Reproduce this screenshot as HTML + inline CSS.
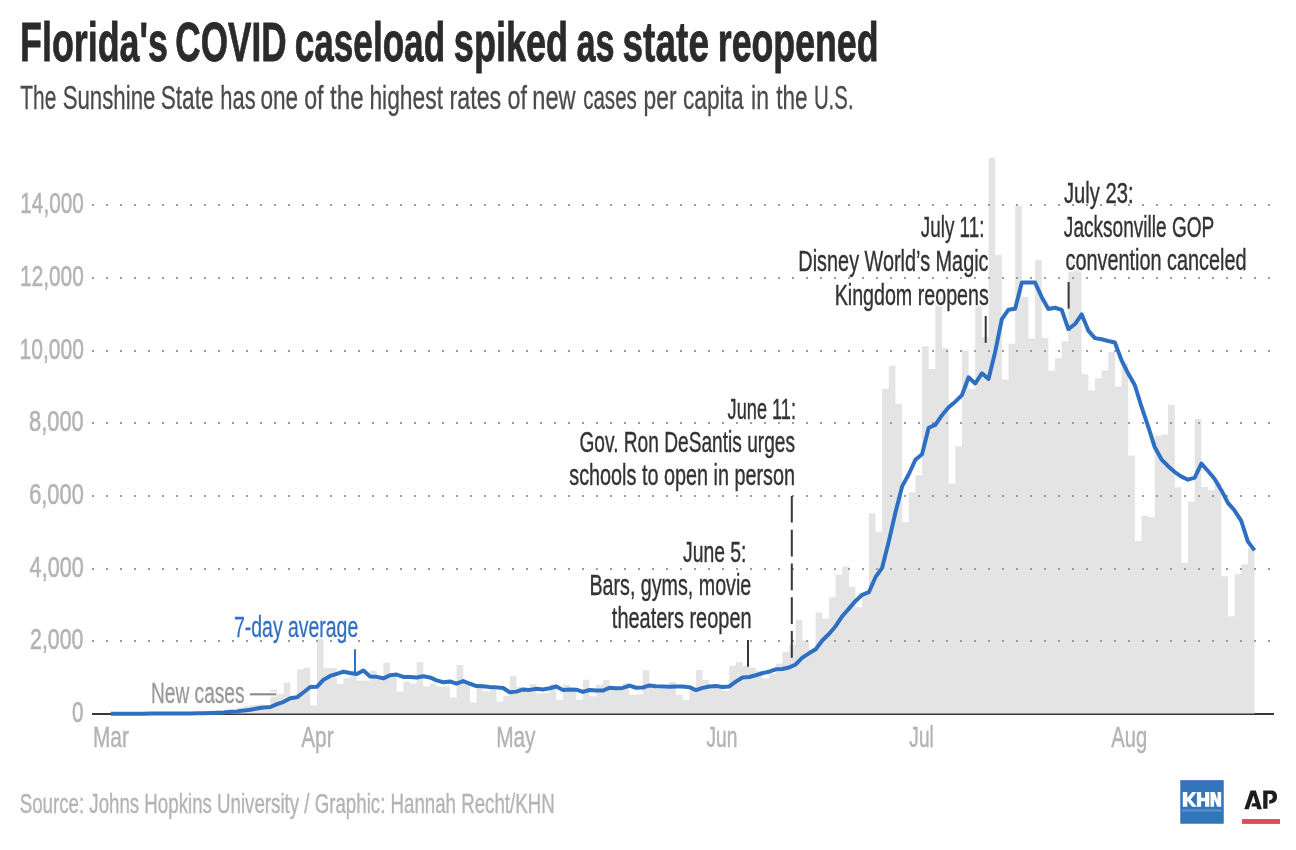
<!DOCTYPE html>
<html><head><meta charset="utf-8"><style>
html,body{margin:0;padding:0;background:#fff;}
body{width:1296px;height:850px;overflow:hidden;}
svg{display:block;font-family:"Liberation Sans",sans-serif;will-change:transform;}
.h{fill:#fff;stroke:#fff;stroke-width:4px;stroke-linejoin:round;}
</style></head><body>
<svg width="1296" height="850" viewBox="0 0 1296 850">
<line x1="92" y1="714" x2="1274" y2="714" stroke="#383838" stroke-width="2"/>
<path d="M104.10,713.45 L104.10,713.60 L110.75,713.60 L110.75,713.67 L117.40,713.67 L117.40,713.67 L124.05,713.67 L124.05,713.63 L130.70,713.63 L130.70,713.60 L137.35,713.60 L137.35,713.60 L144.00,713.60 L144.00,713.60 L150.65,713.60 L150.65,713.52 L157.30,713.52 L157.30,713.63 L163.95,713.63 L163.95,713.67 L170.60,713.67 L170.60,713.27 L177.25,713.27 L177.25,713.52 L183.90,713.52 L183.90,713.05 L190.55,713.05 L190.55,712.83 L197.20,712.83 L197.20,712.58 L203.85,712.58 L203.85,712.43 L210.50,712.43 L210.50,711.82 L217.15,711.82 L217.15,710.58 L223.80,710.58 L223.80,709.67 L230.45,709.67 L230.45,709.67 L237.10,709.67 L237.10,707.49 L243.75,707.49 L243.75,705.97 L250.40,705.97 L250.40,705.02 L257.05,705.02 L257.05,704.40 L263.70,704.40 L263.70,706.62 L270.35,706.62 L270.35,689.62 L277.00,689.62 L277.00,693.80 L283.65,693.80 L283.65,682.71 L290.30,682.71 L290.30,699.14 L296.95,699.14 L296.95,669.42 L303.60,669.42 L303.60,667.82 L310.25,667.82 L310.25,705.39 L316.90,705.39 L316.90,639.26 L323.55,639.26 L323.55,667.93 L330.20,667.93 L330.20,667.93 L336.85,667.93 L336.85,684.09 L343.50,684.09 L343.50,678.32 L350.15,678.32 L350.15,675.41 L356.80,675.41 L356.80,680.61 L363.45,680.61 L363.45,680.61 L370.10,680.61 L370.10,670.83 L376.75,670.83 L376.75,678.32 L383.40,678.32 L383.40,662.73 L390.05,662.73 L390.05,673.70 L396.70,673.70 L396.70,691.62 L403.35,691.62 L403.35,681.70 L410.00,681.70 L410.00,683.51 L416.65,683.51 L416.65,662.33 L423.30,662.33 L423.30,686.42 L429.95,686.42 L429.95,683.51 L436.60,683.51 L436.60,686.42 L443.25,686.42 L443.25,686.42 L449.90,686.42 L449.90,697.39 L456.55,697.39 L456.55,665.02 L463.20,665.02 L463.20,680.97 L469.85,680.97 L469.85,702.59 L476.50,702.59 L476.50,685.29 L483.15,685.29 L483.15,691.62 L489.80,691.62 L489.80,688.71 L496.45,688.71 L496.45,701.50 L503.10,701.50 L503.10,695.68 L509.75,695.68 L509.75,676.03 L516.40,676.03 L516.40,687.00 L523.05,687.00 L523.05,688.71 L529.70,688.71 L529.70,683.91 L536.35,683.91 L536.35,693.40 L543.00,693.40 L543.00,692.81 L549.65,692.81 L549.65,683.91 L556.30,683.91 L556.30,699.68 L562.95,699.68 L562.95,684.71 L569.60,684.71 L569.60,689.29 L576.25,689.29 L576.25,699.68 L582.90,699.68 L582.90,679.70 L589.55,679.70 L589.55,696.19 L596.20,696.19 L596.20,684.71 L602.85,684.71 L602.85,680.03 L609.50,680.03 L609.50,687.33 L616.15,687.33 L616.15,687.91 L622.80,687.91 L622.80,683.22 L629.45,683.22 L629.45,694.99 L636.10,694.99 L636.10,694.41 L642.75,694.41 L642.75,670.14 L649.40,670.14 L649.40,685.62 L656.05,685.62 L656.05,689.11 L662.70,689.11 L662.70,689.11 L669.35,689.11 L669.35,681.81 L676.00,681.81 L676.00,694.99 L682.65,694.99 L682.65,699.68 L689.30,699.68 L689.30,690.31 L695.95,690.31 L695.95,670.14 L702.60,670.14 L702.60,679.92 L709.25,679.92 L709.25,685.62 L715.90,685.62 L715.90,688.60 L722.55,688.60 L722.55,690.78 L729.20,690.78 L729.20,665.82 L735.85,665.82 L735.85,662.11 L742.50,662.11 L742.50,666.25 L749.15,666.25 L749.15,667.53 L755.80,667.53 L755.80,670.80 L762.45,670.80 L762.45,678.57 L769.10,678.57 L769.10,673.85 L775.75,673.85 L775.75,663.86 L782.40,663.86 L782.40,651.98 L789.05,651.98 L789.05,644.56 L795.70,644.56 L795.70,619.89 L802.35,619.89 L802.35,640.42 L809.00,640.42 L809.00,649.80 L815.65,649.80 L815.65,612.55 L822.30,612.55 L822.30,618.84 L828.95,618.84 L828.95,597.15 L835.60,597.15 L835.60,574.80 L842.25,574.80 L842.25,566.56 L848.90,566.56 L848.90,586.72 L855.55,586.72 L855.55,607.36 L862.20,607.36 L862.20,594.17 L868.85,594.17 L868.85,513.54 L875.50,513.54 L875.50,531.86 L882.15,531.86 L882.15,388.78 L888.80,388.78 L888.80,365.41 L895.45,365.41 L895.45,403.74 L902.10,403.74 L902.10,522.34 L908.75,522.34 L908.75,492.29 L915.40,492.29 L915.40,475.21 L922.05,475.21 L922.05,346.37 L928.70,346.37 L928.70,368.94 L935.35,368.94 L935.35,297.36 L942.00,297.36 L942.00,348.19 L948.65,348.19 L948.65,483.46 L955.30,483.46 L955.30,446.22 L961.95,446.22 L961.95,350.73 L968.60,350.73 L968.60,389.03 L975.25,389.03 L975.25,298.27 L981.90,298.27 L981.90,337.25 L988.55,337.25 L988.55,157.77 L995.20,157.77 L995.20,254.99 L1001.85,254.99 L1001.85,379.62 L1008.50,379.62 L1008.50,343.76 L1015.15,343.76 L1015.15,206.27 L1021.80,206.27 L1021.80,297.07 L1028.45,297.07 L1028.45,338.42 L1035.10,338.42 L1035.10,260.30 L1041.75,260.30 L1041.75,337.73 L1048.40,337.73 L1048.40,370.68 L1055.05,370.68 L1055.05,358.15 L1061.70,358.15 L1061.70,341.29 L1068.35,341.29 L1068.35,261.54 L1075.00,261.54 L1075.00,270.44 L1081.65,270.44 L1081.65,374.17 L1088.30,374.17 L1088.30,390.59 L1094.95,390.59 L1094.95,378.31 L1101.60,378.31 L1101.60,370.46 L1108.25,370.46 L1108.25,351.93 L1114.90,351.93 L1114.90,386.41 L1121.55,386.41 L1121.55,363.34 L1128.20,363.34 L1128.20,455.56 L1134.85,455.56 L1134.85,541.01 L1141.50,541.01 L1141.50,515.80 L1148.15,515.80 L1148.15,517.14 L1154.80,517.14 L1154.80,435.72 L1161.45,435.72 L1161.45,434.41 L1168.10,434.41 L1168.10,404.76 L1174.75,404.76 L1174.75,487.35 L1181.40,487.35 L1181.40,562.70 L1188.05,562.70 L1188.05,501.81 L1194.70,501.81 L1194.70,419.04 L1201.35,419.04 L1201.35,487.09 L1208.00,487.09 L1208.00,490.29 L1214.65,490.29 L1214.65,482.88 L1221.30,482.88 L1221.30,576.37 L1227.95,576.37 L1227.95,616.37 L1234.60,616.37 L1234.60,574.22 L1241.25,574.22 L1241.25,564.16 L1247.90,564.16 L1247.90,548.17 L1254.55,548.17 L1254.55,713.45 Z" fill="#e4e4e4"/>
<text x="727.60" y="419.00" font-size="29.50" textLength="68.37" lengthAdjust="spacingAndGlyphs" class="h">June 11:</text>
<text x="579.47" y="452.00" font-size="29.50" textLength="215.52" lengthAdjust="spacingAndGlyphs" class="h">Gov. Ron DeSantis urges</text>
<text x="569.25" y="485.00" font-size="29.50" textLength="225.81" lengthAdjust="spacingAndGlyphs" class="h">schools to open in person</text>
<text x="682.98" y="562.00" font-size="29.50" textLength="63.54" lengthAdjust="spacingAndGlyphs" class="h">June 5:</text>
<text x="589.44" y="595.00" font-size="29.50" textLength="161.83" lengthAdjust="spacingAndGlyphs" class="h">Bars, gyms, movie</text>
<text x="611.85" y="628.00" font-size="29.50" textLength="139.73" lengthAdjust="spacingAndGlyphs" class="h">theaters reopen</text>
<text x="920.87" y="237.00" font-size="29.50" textLength="63.53" lengthAdjust="spacingAndGlyphs" class="h">July 11:</text>
<text x="798.36" y="271.00" font-size="29.50" textLength="190.19" lengthAdjust="spacingAndGlyphs" class="h">Disney World’s Magic</text>
<text x="834.65" y="305.00" font-size="29.50" textLength="154.14" lengthAdjust="spacingAndGlyphs" class="h">Kingdom reopens</text>
<text x="1063.94" y="203.00" font-size="29.50" textLength="69.65" lengthAdjust="spacingAndGlyphs" class="h">July 23:</text>
<text x="1063.85" y="237.00" font-size="29.50" textLength="150.47" lengthAdjust="spacingAndGlyphs" class="h">Jacksonville GOP</text>
<text x="1065.45" y="270.00" font-size="29.50" textLength="181.15" lengthAdjust="spacingAndGlyphs" class="h">convention canceled</text>
<text x="150.99" y="703.00" font-size="29.50" textLength="93.57" lengthAdjust="spacingAndGlyphs" class="h">New cases</text>
<text x="233.99" y="637.00" font-size="29.50" textLength="124.26" lengthAdjust="spacingAndGlyphs" class="h">7-day average</text>
<line x1="250" y1="694.3" x2="276" y2="694.3" stroke="#fff" stroke-width="5"/>
<line x1="92" y1="641" x2="1270" y2="641" stroke="#9c9c9c" stroke-width="2" stroke-dasharray="2 12"/>
<line x1="92" y1="569" x2="1270" y2="569" stroke="#9c9c9c" stroke-width="2" stroke-dasharray="2 12"/>
<line x1="92" y1="496" x2="1270" y2="496" stroke="#9c9c9c" stroke-width="2" stroke-dasharray="2 12"/>
<line x1="92" y1="423" x2="1270" y2="423" stroke="#9c9c9c" stroke-width="2" stroke-dasharray="2 12"/>
<line x1="92" y1="351" x2="1270" y2="351" stroke="#9c9c9c" stroke-width="2" stroke-dasharray="2 12"/>
<line x1="92" y1="278" x2="1270" y2="278" stroke="#9c9c9c" stroke-width="2" stroke-dasharray="2 12"/>
<line x1="92" y1="205" x2="1270" y2="205" stroke="#9c9c9c" stroke-width="2" stroke-dasharray="2 12"/>
<line x1="250" y1="694.3" x2="276" y2="694.3" stroke="#8a8a8a" stroke-width="2.1"/>
<line x1="748" y1="640" x2="748" y2="666.8" stroke="#363636" stroke-width="2"/>
<line x1="791.8" y1="495.9" x2="791.8" y2="658" stroke="#363636" stroke-width="2" stroke-dasharray="26.7 7.1"/>
<line x1="985.7" y1="316" x2="985.7" y2="342.8" stroke="#363636" stroke-width="2"/>
<line x1="1068.6" y1="282" x2="1068.6" y2="308.6" stroke="#363636" stroke-width="2"/>
<line x1="355" y1="649.2" x2="355" y2="673.3" stroke="#3070c4" stroke-width="2"/>
<path d="M110.75,713.66 L117.40,713.66 L124.05,713.66 L130.70,713.65 L137.35,713.64 L144.00,713.63 L150.65,713.62 L157.30,713.61 L163.95,713.61 L170.60,713.61 L177.25,713.56 L183.90,713.55 L190.55,713.47 L197.20,713.36 L203.85,713.22 L210.50,713.05 L217.15,712.79 L223.80,712.40 L230.45,711.85 L237.10,711.37 L243.75,710.61 L250.40,709.66 L257.05,708.60 L263.70,707.55 L270.35,706.98 L277.00,704.11 L283.65,701.85 L290.30,698.31 L296.95,697.33 L303.60,692.24 L310.25,687.02 L316.90,686.84 L323.55,679.65 L330.20,675.95 L336.85,673.84 L343.50,671.69 L350.15,672.96 L356.80,674.05 L363.45,670.51 L370.10,676.41 L376.75,676.83 L383.40,678.31 L390.05,675.26 L396.70,674.60 L403.35,676.92 L410.00,677.07 L416.65,677.49 L423.30,676.27 L429.95,677.43 L436.60,680.40 L443.25,682.22 L449.90,681.47 L456.55,683.72 L463.20,681.07 L469.85,683.74 L476.50,686.05 L483.15,686.30 L489.80,687.04 L496.45,687.37 L503.10,687.96 L509.75,692.34 L516.40,691.63 L523.05,689.40 L529.70,689.89 L536.35,688.79 L543.00,689.46 L549.65,688.22 L556.30,686.54 L562.95,689.92 L569.60,689.59 L576.25,689.67 L582.90,691.93 L589.55,689.97 L596.20,690.45 L602.85,690.57 L609.50,687.76 L616.15,688.13 L622.80,687.94 L629.45,685.58 L636.10,687.77 L642.75,687.52 L649.40,685.43 L656.05,686.23 L662.70,686.49 L669.35,686.66 L676.00,686.46 L682.65,686.46 L689.30,687.21 L695.95,690.09 L702.60,687.88 L709.25,686.57 L715.90,686.07 L722.55,687.04 L729.20,686.44 L735.85,681.60 L742.50,677.57 L749.15,677.01 L755.80,675.24 L762.45,673.13 L769.10,671.69 L775.75,669.28 L782.40,669.00 L789.05,667.55 L795.70,664.45 L802.35,657.64 L809.00,653.30 L815.65,649.19 L822.30,640.44 L828.95,634.01 L835.60,626.17 L842.25,616.21 L848.90,608.59 L855.55,600.92 L862.20,594.85 L868.85,592.23 L875.50,577.19 L882.15,567.86 L888.80,541.28 L895.45,512.55 L902.10,486.41 L908.75,474.26 L915.40,459.71 L922.05,454.23 L928.70,427.74 L935.35,424.90 L942.00,415.18 L948.65,407.24 L955.30,401.69 L961.95,395.11 L968.60,377.32 L975.25,383.42 L981.90,373.32 L988.55,379.02 L995.20,351.82 L1001.85,319.18 L1008.50,309.67 L1015.15,308.67 L1021.80,282.56 L1028.45,282.39 L1035.10,282.56 L1041.75,297.20 L1048.40,309.02 L1055.05,307.75 L1061.70,309.80 L1068.35,329.09 L1075.00,324.01 L1081.65,314.30 L1088.30,330.57 L1094.95,338.12 L1101.60,339.21 L1108.25,340.97 L1114.90,342.49 L1121.55,360.33 L1128.20,373.60 L1134.85,385.23 L1141.50,406.72 L1148.15,426.36 L1154.80,447.31 L1161.45,459.28 L1168.10,466.14 L1174.75,472.06 L1181.40,476.60 L1188.05,479.70 L1194.70,477.70 L1201.35,463.68 L1208.00,471.02 L1214.65,479.01 L1221.30,490.17 L1227.95,502.88 L1234.60,510.55 L1241.25,520.89 L1247.90,541.63 L1254.55,550.35" fill="none" stroke="#2f6fc2" stroke-width="4" stroke-linejoin="round"/>
<text x="727.60" y="419.00" font-size="29.50" textLength="68.37" lengthAdjust="spacingAndGlyphs" fill="#333333" stroke="#333333" stroke-width="0.40" stroke-linejoin="round">June 11:</text>
<text x="579.47" y="452.00" font-size="29.50" textLength="215.52" lengthAdjust="spacingAndGlyphs" fill="#333333" stroke="#333333" stroke-width="0.40" stroke-linejoin="round">Gov. Ron DeSantis urges</text>
<text x="569.25" y="485.00" font-size="29.50" textLength="225.81" lengthAdjust="spacingAndGlyphs" fill="#333333" stroke="#333333" stroke-width="0.40" stroke-linejoin="round">schools to open in person</text>
<text x="682.98" y="562.00" font-size="29.50" textLength="63.54" lengthAdjust="spacingAndGlyphs" fill="#333333" stroke="#333333" stroke-width="0.40" stroke-linejoin="round">June 5:</text>
<text x="589.44" y="595.00" font-size="29.50" textLength="161.83" lengthAdjust="spacingAndGlyphs" fill="#333333" stroke="#333333" stroke-width="0.40" stroke-linejoin="round">Bars, gyms, movie</text>
<text x="611.85" y="628.00" font-size="29.50" textLength="139.73" lengthAdjust="spacingAndGlyphs" fill="#333333" stroke="#333333" stroke-width="0.40" stroke-linejoin="round">theaters reopen</text>
<text x="920.87" y="237.00" font-size="29.50" textLength="63.53" lengthAdjust="spacingAndGlyphs" fill="#333333" stroke="#333333" stroke-width="0.40" stroke-linejoin="round">July 11:</text>
<text x="798.36" y="271.00" font-size="29.50" textLength="190.19" lengthAdjust="spacingAndGlyphs" fill="#333333" stroke="#333333" stroke-width="0.40" stroke-linejoin="round">Disney World’s Magic</text>
<text x="834.65" y="305.00" font-size="29.50" textLength="154.14" lengthAdjust="spacingAndGlyphs" fill="#333333" stroke="#333333" stroke-width="0.40" stroke-linejoin="round">Kingdom reopens</text>
<text x="1063.94" y="203.00" font-size="29.50" textLength="69.65" lengthAdjust="spacingAndGlyphs" fill="#333333" stroke="#333333" stroke-width="0.40" stroke-linejoin="round">July 23:</text>
<text x="1063.85" y="237.00" font-size="29.50" textLength="150.47" lengthAdjust="spacingAndGlyphs" fill="#333333" stroke="#333333" stroke-width="0.40" stroke-linejoin="round">Jacksonville GOP</text>
<text x="1065.45" y="270.00" font-size="29.50" textLength="181.15" lengthAdjust="spacingAndGlyphs" fill="#333333" stroke="#333333" stroke-width="0.40" stroke-linejoin="round">convention canceled</text>
<text x="150.99" y="703.00" font-size="29.50" textLength="93.57" lengthAdjust="spacingAndGlyphs" fill="#999999" stroke="#999999" stroke-width="0.30" stroke-linejoin="round">New cases</text>
<text x="233.99" y="637.00" font-size="29.50" textLength="124.26" lengthAdjust="spacingAndGlyphs" fill="#3070c4" stroke="#3070c4" stroke-width="0.30" stroke-linejoin="round">7-day average</text>
<text x="20.11" y="61.00" font-size="55.50" textLength="147.83" lengthAdjust="spacingAndGlyphs" font-weight="bold" fill="#2b2b2b" stroke="#2b2b2b" stroke-width="0.80" stroke-linejoin="round">Florida&#39;s</text>
<text x="175.31" y="61.00" font-size="55.50" textLength="111.28" lengthAdjust="spacingAndGlyphs" font-weight="bold" fill="#2b2b2b" stroke="#2b2b2b" stroke-width="0.80" stroke-linejoin="round">COVID</text>
<text x="294.74" y="61.00" font-size="55.50" textLength="150.38" lengthAdjust="spacingAndGlyphs" font-weight="bold" fill="#2b2b2b" stroke="#2b2b2b" stroke-width="0.80" stroke-linejoin="round">caseload</text>
<text x="453.82" y="61.00" font-size="55.50" textLength="114.31" lengthAdjust="spacingAndGlyphs" font-weight="bold" fill="#2b2b2b" stroke="#2b2b2b" stroke-width="0.80" stroke-linejoin="round">spiked</text>
<text x="576.51" y="61.00" font-size="55.50" textLength="38.07" lengthAdjust="spacingAndGlyphs" font-weight="bold" fill="#2b2b2b" stroke="#2b2b2b" stroke-width="0.80" stroke-linejoin="round">as</text>
<text x="622.53" y="61.00" font-size="55.50" textLength="86.48" lengthAdjust="spacingAndGlyphs" font-weight="bold" fill="#2b2b2b" stroke="#2b2b2b" stroke-width="0.80" stroke-linejoin="round">state</text>
<text x="717.83" y="61.00" font-size="55.50" textLength="160.65" lengthAdjust="spacingAndGlyphs" font-weight="bold" fill="#2b2b2b" stroke="#2b2b2b" stroke-width="0.80" stroke-linejoin="round">reopened</text>
<text x="20.27" y="109.00" font-size="33.50" textLength="36.10" lengthAdjust="spacingAndGlyphs" fill="#4b4b4b" stroke="#4b4b4b" stroke-width="0.30" stroke-linejoin="round">The</text>
<text x="62.65" y="109.00" font-size="33.50" textLength="92.76" lengthAdjust="spacingAndGlyphs" fill="#4b4b4b" stroke="#4b4b4b" stroke-width="0.30" stroke-linejoin="round">Sunshine</text>
<text x="160.71" y="109.00" font-size="33.50" textLength="52.93" lengthAdjust="spacingAndGlyphs" fill="#4b4b4b" stroke="#4b4b4b" stroke-width="0.30" stroke-linejoin="round">State</text>
<text x="220.33" y="109.00" font-size="33.50" textLength="35.34" lengthAdjust="spacingAndGlyphs" fill="#4b4b4b" stroke="#4b4b4b" stroke-width="0.30" stroke-linejoin="round">has</text>
<text x="260.45" y="109.00" font-size="33.50" textLength="37.70" lengthAdjust="spacingAndGlyphs" fill="#4b4b4b" stroke="#4b4b4b" stroke-width="0.30" stroke-linejoin="round">one</text>
<text x="304.18" y="109.00" font-size="33.50" textLength="19.36" lengthAdjust="spacingAndGlyphs" fill="#4b4b4b" stroke="#4b4b4b" stroke-width="0.30" stroke-linejoin="round">of</text>
<text x="329.95" y="109.00" font-size="33.50" textLength="33.68" lengthAdjust="spacingAndGlyphs" fill="#4b4b4b" stroke="#4b4b4b" stroke-width="0.30" stroke-linejoin="round">the</text>
<text x="369.38" y="109.00" font-size="33.50" textLength="73.62" lengthAdjust="spacingAndGlyphs" fill="#4b4b4b" stroke="#4b4b4b" stroke-width="0.30" stroke-linejoin="round">highest</text>
<text x="449.55" y="109.00" font-size="33.50" textLength="51.65" lengthAdjust="spacingAndGlyphs" fill="#4b4b4b" stroke="#4b4b4b" stroke-width="0.30" stroke-linejoin="round">rates</text>
<text x="507.59" y="109.00" font-size="33.50" textLength="19.44" lengthAdjust="spacingAndGlyphs" fill="#4b4b4b" stroke="#4b4b4b" stroke-width="0.30" stroke-linejoin="round">of</text>
<text x="532.26" y="109.00" font-size="33.50" textLength="43.33" lengthAdjust="spacingAndGlyphs" fill="#4b4b4b" stroke="#4b4b4b" stroke-width="0.30" stroke-linejoin="round">new</text>
<text x="583.13" y="109.00" font-size="33.50" textLength="53.74" lengthAdjust="spacingAndGlyphs" fill="#4b4b4b" stroke="#4b4b4b" stroke-width="0.30" stroke-linejoin="round">cases</text>
<text x="643.57" y="109.00" font-size="33.50" textLength="32.95" lengthAdjust="spacingAndGlyphs" fill="#4b4b4b" stroke="#4b4b4b" stroke-width="0.30" stroke-linejoin="round">per</text>
<text x="682.91" y="109.00" font-size="33.50" textLength="60.66" lengthAdjust="spacingAndGlyphs" fill="#4b4b4b" stroke="#4b4b4b" stroke-width="0.30" stroke-linejoin="round">capita</text>
<text x="751.02" y="109.00" font-size="33.50" textLength="17.93" lengthAdjust="spacingAndGlyphs" fill="#4b4b4b" stroke="#4b4b4b" stroke-width="0.30" stroke-linejoin="round">in</text>
<text x="776.22" y="109.00" font-size="33.50" textLength="31.41" lengthAdjust="spacingAndGlyphs" fill="#4b4b4b" stroke="#4b4b4b" stroke-width="0.30" stroke-linejoin="round">the</text>
<text x="813.88" y="109.00" font-size="33.50" textLength="39.67" lengthAdjust="spacingAndGlyphs" fill="#4b4b4b" stroke="#4b4b4b" stroke-width="0.30" stroke-linejoin="round">U.S.</text>
<text x="20.33" y="213.00" font-size="30.00" textLength="63.46" lengthAdjust="spacingAndGlyphs" fill="#b4b4b4" stroke="#b4b4b4" stroke-width="0.60" stroke-linejoin="round">14,000</text>
<text x="20.08" y="286.00" font-size="30.00" textLength="63.72" lengthAdjust="spacingAndGlyphs" fill="#b4b4b4" stroke="#b4b4b4" stroke-width="0.60" stroke-linejoin="round">12,000</text>
<text x="19.57" y="359.00" font-size="30.00" textLength="64.36" lengthAdjust="spacingAndGlyphs" fill="#b4b4b4" stroke="#b4b4b4" stroke-width="0.60" stroke-linejoin="round">10,000</text>
<text x="29.06" y="431.00" font-size="30.00" textLength="54.73" lengthAdjust="spacingAndGlyphs" fill="#b4b4b4" stroke="#b4b4b4" stroke-width="0.60" stroke-linejoin="round">8,000</text>
<text x="29.16" y="504.00" font-size="30.00" textLength="54.62" lengthAdjust="spacingAndGlyphs" fill="#b4b4b4" stroke="#b4b4b4" stroke-width="0.60" stroke-linejoin="round">6,000</text>
<text x="29.61" y="577.00" font-size="30.00" textLength="54.21" lengthAdjust="spacingAndGlyphs" fill="#b4b4b4" stroke="#b4b4b4" stroke-width="0.60" stroke-linejoin="round">4,000</text>
<text x="30.09" y="649.00" font-size="30.00" textLength="53.38" lengthAdjust="spacingAndGlyphs" fill="#b4b4b4" stroke="#b4b4b4" stroke-width="0.60" stroke-linejoin="round">2,000</text>
<text x="72.10" y="722.00" font-size="30.00" textLength="11.48" lengthAdjust="spacingAndGlyphs" fill="#b4b4b4" stroke="#b4b4b4" stroke-width="0.60" stroke-linejoin="round">0</text>
<text x="92.97" y="747.00" font-size="29.50" textLength="35.95" lengthAdjust="spacingAndGlyphs" fill="#b4b4b4" stroke="#b4b4b4" stroke-width="0.50" stroke-linejoin="round">Mar</text>
<text x="301.22" y="747.00" font-size="29.50" textLength="32.35" lengthAdjust="spacingAndGlyphs" fill="#b4b4b4" stroke="#b4b4b4" stroke-width="0.50" stroke-linejoin="round">Apr</text>
<text x="496.15" y="747.00" font-size="29.50" textLength="39.40" lengthAdjust="spacingAndGlyphs" fill="#b4b4b4" stroke="#b4b4b4" stroke-width="0.50" stroke-linejoin="round">May</text>
<text x="706.41" y="747.00" font-size="29.50" textLength="30.99" lengthAdjust="spacingAndGlyphs" fill="#b4b4b4" stroke="#b4b4b4" stroke-width="0.50" stroke-linejoin="round">Jun</text>
<text x="909.36" y="747.00" font-size="29.50" textLength="24.37" lengthAdjust="spacingAndGlyphs" fill="#b4b4b4" stroke="#b4b4b4" stroke-width="0.50" stroke-linejoin="round">Jul</text>
<text x="1111.18" y="747.00" font-size="29.50" textLength="36.01" lengthAdjust="spacingAndGlyphs" fill="#b4b4b4" stroke="#b4b4b4" stroke-width="0.50" stroke-linejoin="round">Aug</text>
<text x="19.69" y="813.00" font-size="28.00" textLength="534.97" lengthAdjust="spacingAndGlyphs" fill="#b4b4b4" stroke="#b4b4b4" stroke-width="0.40" stroke-linejoin="round">Source: Johns Hopkins University / Graphic: Hannah Recht/KHN</text>
<rect x="1180.25" y="780.15" width="43.5" height="43.6" fill="#3375bb"/>
<g transform="translate(1178,778) scale(0.05647)" fill="#fff"><path d="M85,250 L165,250 L165,355 L250,250 L330,250 L225,380 L335,510 L250,510 L165,405 L165,510 L85,510 Z M335,250 L410,250 L410,350 L480,350 L480,250 L555,250 L555,510 L480,510 L480,410 L410,410 L410,510 L335,510 Z M575,250 L650,250 L700,390 L700,250 L765,250 L765,510 L695,510 L640,370 L640,510 L575,510 Z"/><rect x="75" y="558" width="695" height="36" fill-opacity="0.22"/></g>
<g transform="translate(1240,786) scale(0.03294)" fill="#1f1d1f"><path d="M130,707 L320,140 L480,140 L665,705 L525,705 L410,290 L265,707 Z M375,520 L485,520 L505,615 L345,620 Z"/><path d="M705,140 L960,140 C1060,140 1125,215 1125,330 C1125,445 1060,510 960,525 L885,540 L885,430 L930,425 C970,415 995,380 995,330 C995,270 965,240 930,240 L835,240 L835,690 L705,690 Z"/></g>
<rect x="1242" y="819.1" width="38" height="4.8" fill="#de4958"/>
</svg></body></html>
